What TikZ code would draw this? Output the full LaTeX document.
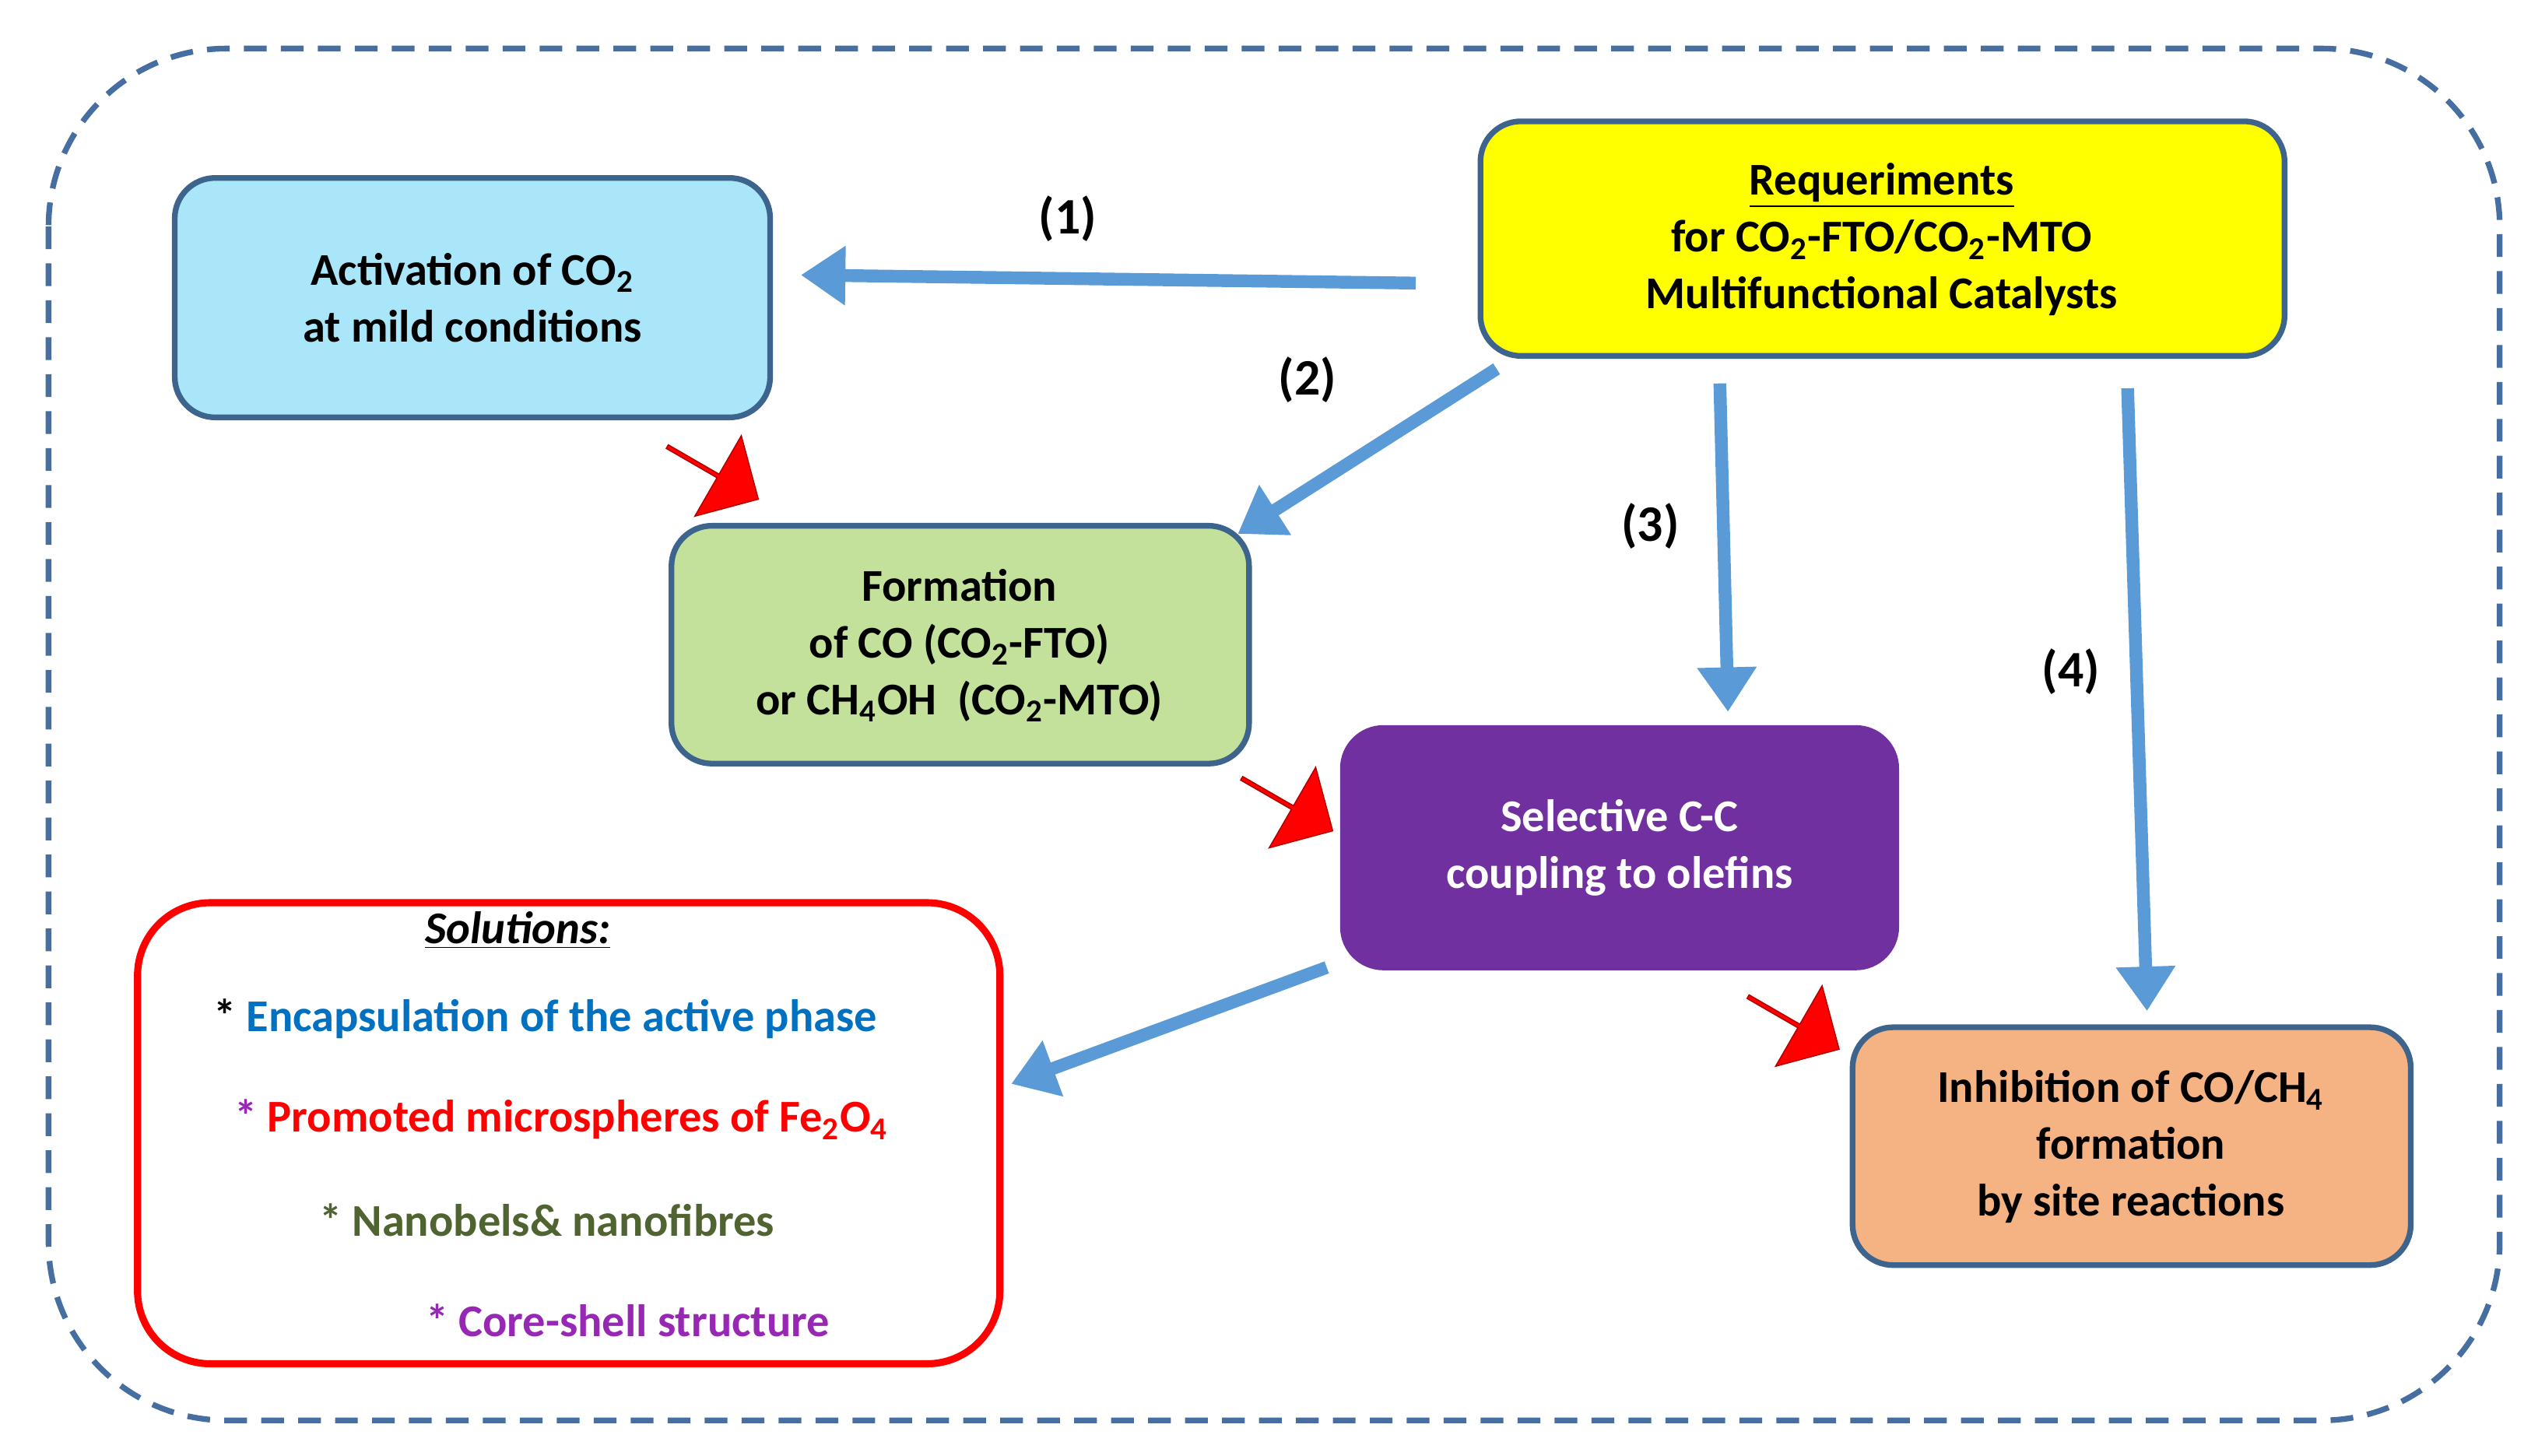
\documentclass[tikz,border=0pt]{standalone}
\usepackage{fontspec}
\setmainfont{Carlito}
\usetikzlibrary{arrows.meta,shapes.arrows}
\definecolor{frame}{RGB}{70,110,160}
\definecolor{bd}{RGB}{60,100,140}
\definecolor{cyanf}{RGB}{170,230,250}
\definecolor{yel}{RGB}{255,255,0}
\definecolor{grn}{RGB}{195,225,155}
\definecolor{pur}{RGB}{112,48,160}
\definecolor{org}{RGB}{245,178,130}
\definecolor{arr}{RGB}{90,155,215}
\definecolor{sblue}{RGB}{0,112,192}
\definecolor{sgreen}{RGB}{80,100,50}
\definecolor{smag}{RGB}{150,40,180}
\begin{document}
\begin{tikzpicture}[x=0.02cm,y=-0.02cm,
  box/.style={draw=bd,line width=2pt,rounded corners=0.5cm,font=\fontsize{16}{20}\selectfont\bfseries,align=center},
  barr/.style={draw=arr,line width=4.5pt,-{Triangle[length=0.55cm,width=0.7cm]}},
  rarr/.style={single arrow,fill=red,draw=red!70!black,minimum height=1.3cm,minimum width=1.15cm,single arrow head extend=0.15cm,inner sep=0pt},
  lab/.style={font=\fontsize{18}{20}\selectfont\bfseries}]
\useasboundingbox (0,0) rectangle (1560,900);
\draw[frame,line width=2pt,dash pattern=on 8pt off 5pt,rounded corners=2.2cm] (30,30) rectangle (1545,878);
\path[box,fill=cyanf] (108,110) rectangle (476,258);
\node[box,draw=none] (act) at (292,184) {Activation of CO$_\mathbf{2}$\\at mild conditions};
\path[box,fill=yel] (915,75) rectangle (1412,220);
\node[box,draw=none] (req) at (1163,148) {\underline{Requeriments}\\for CO$_\mathbf{2}$-FTO/CO$_\mathbf{2}$-MTO\\Multifunctional Catalysts};
\path[box,fill=grn] (415,325) rectangle (772,472);
\node[box,draw=none] (form) at (593,399) {Formation\\of CO (CO$_\mathbf{2}$-FTO)\\or CH$_\mathbf{4}$OH\ \ (CO$_\mathbf{2}$-MTO)};
\path[box,fill=pur,draw=pur] (830,450) rectangle (1172,598);
\node[box,draw=none,text=white] (sel) at (1001,524) {Selective C-C\\coupling to olefins};
\path[box,fill=org] (1145,635) rectangle (1490,782);
\node[box,draw=none] (inh) at (1317,709) {Inhibition of CO/CH$_\mathbf{4}$\\formation\\by site reactions};
\path[draw=red,line width=2.5pt,rounded corners=0.9cm] (85,558) rectangle (618,843);
\node[font=\fontsize{16}{20}\selectfont\bfseries\itshape] (sol) at (320,575) {\underline{Solutions:}};
\node[font=\fontsize{16}{20}\selectfont\bfseries] (s1) at (337,630) {* \textcolor{sblue}{Encapsulation of the active phase}};
\node[font=\fontsize{16}{20}\selectfont\bfseries,text=smag] (s2) at (347,692) {* \textcolor{red}{Promoted microspheres of Fe$_\mathbf{2}$O$_\mathbf{4}$}};
\node[font=\fontsize{16}{20}\selectfont\bfseries,text=sgreen] (s3) at (338,754) {* Nanobels\& nanofibres};
\node[font=\fontsize{16}{20}\selectfont\bfseries,text=smag] (s4) at (388,816) {* Core-shell structure};
\coordinate (a1s) at (875,175); \coordinate (a1e) at (495,170);
\coordinate (a2s) at (925,228); \coordinate (a2e) at (765,330);
\coordinate (a3s) at (1063,237); \coordinate (a3e) at (1068,440);
\coordinate (a4s) at (1315,240); \coordinate (a4e) at (1327,625);
\coordinate (a5s) at (820,598); \coordinate (a5e) at (625,670);
\draw[barr] (a1s) -- (a1e);
\draw[barr] (a2s) -- (a2e);
\draw[barr] (a3s) -- (a3e);
\draw[barr] (a4s) -- (a4e);
\draw[barr] (a5s) -- (a5e);
\node[lab] (l1) at (660,135) {(1)};
\node[lab] (l2) at (808,235) {(2)};
\node[lab] (l3) at (1020,325) {(3)};
\node[lab] (l4) at (1280,415) {(4)};
\node[rarr,rotate=-30] (r1) at (440,292) {};
\node[rarr,rotate=-30] (r2) at (795,497) {};
\node[rarr,rotate=-30] (r3) at (1108,632) {};
\end{tikzpicture}
\end{document}
